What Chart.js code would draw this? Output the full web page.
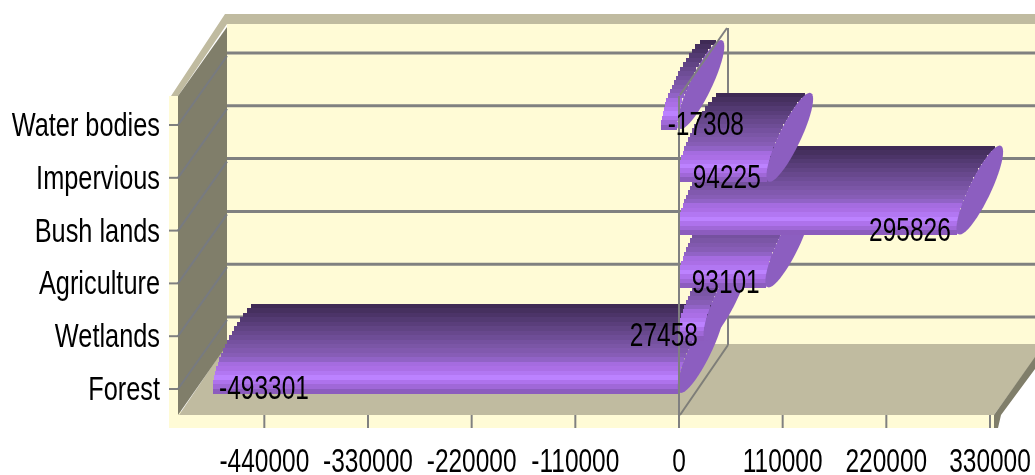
<!DOCTYPE html>
<html>
<head>
<meta charset="utf-8">
<style>html,body{margin:0;padding:0;background:#fff}canvas{display:block}</style>
<script src="https://cdn.jsdelivr.net/npm/chart.js@4"></script>
</head>
<body>
<canvas id="c" width="1035" height="475"></canvas>
<script>
const categories = ['Water bodies','Impervious','Bush lands','Agriculture','Wetlands','Forest'];
const values = [-17308, 94225, 295826, 93101, 27458, -493301];
const xTicks = [-440000,-330000,-220000,-110000,0,110000,220000,330000];

const CREAM='#FFFBD6', RIM='#C0BBA0', WALL='#807E6A', GRID='#808080', WALLGRID='#777A80', CAP='#8C5EC0';
const BANDS=['#3F2A55','#46305F','#4C3468','#533A72','#5A3E7B','#614484','#68488D','#6E4D96','#75519F','#7B56A6','#8159AE','#875DB6','#9163C6','#A56CE0','#AB6FE6','#B277F2','#BC82FF','#AE72EC','#A068D8','#8C5CBE'];
const FONT_CAT='34px "Liberation Sans"', XS=0.72;

function poly(ctx,pts,fill){ctx.beginPath();pts.forEach((p,i)=>i?ctx.lineTo(p[0],p[1]):ctx.moveTo(p[0],p[1]));ctx.closePath();ctx.fillStyle=fill;ctx.fill();}
function line(ctx,x1,y1,x2,y2,c,w){ctx.beginPath();ctx.moveTo(x1,y1);ctx.lineTo(x2,y2);ctx.strokeStyle=c;ctx.lineWidth=w||2;ctx.stroke();}
function text(ctx,s,x,y,align,sx){ctx.save();ctx.translate(x,y);ctx.scale(sx||XS,1);ctx.font=FONT_CAT;ctx.fillStyle='#000';ctx.textAlign=align;ctx.textBaseline='alphabetic';ctx.fillText(s,0,0);ctx.restore();}

const bar3d={
 id:'bar3d',
 beforeDatasetsDraw(chart){
  const ctx=chart.ctx,{x,y}=chart.scales;
  const zero=x.getPixelForValue(0);
  ctx.save();
  ctx.fillStyle=CREAM;
  ctx.fillRect(169,96,12,332);
  ctx.fillRect(169,415,825,13);
  ctx.fillRect(227,24,808,320);
  poly(ctx,[[179,415],[227,344],[1035,344],[1035,358],[994,415]],RIM);
  poly(ctx,[[994,428],[994,415],[1035,357],[1035,369],[1001,415],[998,428]],WALL);
  poly(ctx,[[171,96],[225,14],[1035,14],[1035,24],[227,24],[178,96]],RIM);
  poly(ctx,[[178,96],[227,27],[227,345],[178,415]],WALL);
  categories.forEach((c,i)=>{
    const yc=y.getPixelForValue(i);
    line(ctx,169,yc,178,yc,GRID,2);
    line(ctx,178,yc,227,yc-69,WALLGRID,2);
    line(ctx,227,yc-72,1035,yc-72,GRID,3);
  });
  xTicks.forEach(v=>{const p=x.getPixelForValue(v);line(ctx,p,415,p,428,GRID,2);});
  line(ctx,zero+49,28,zero+49,345,GRID,2);
  line(ctx,zero+1,415,zero+49,345,'#7E7E78',2);
  ctx.restore();
 },
 afterDatasetsDraw(chart){
  const ctx=chart.ctx,{x,y}=chart.scales,meta=chart.getDatasetMeta(0);
  const zero=x.getPixelForValue(0);
  const H=89,C=H/2,A=20,B=12,OFF=22,UMAX=A/Math.hypot(A,B);
  ctx.save();
  for(let i=meta.data.length-1;i>=0;i--){
    const el=meta.data[i],yc=el.y;
    const lo=Math.min(el.x,el.base),hi=Math.max(el.x,el.base);
    const bottom=yc+4,top=bottom-H,cy=(top+bottom)/2,n=BANDS.length,bh=H/n;
    BANDS.forEach((col,k)=>{
      const y1=top+k*bh,mid=y1+bh/2,u=Math.min((mid-cy)/C,UMAX);
      const dx=OFF-A*u-B*Math.sqrt(Math.max(0,1-u*u));
      ctx.fillStyle=col;
      ctx.fillRect(Math.round(lo+dx),Math.round(y1),Math.round(hi-lo),Math.ceil(bh));
    });
    ctx.beginPath();
    for(let t=0;t<=48;t++){
      const a=t/48*Math.PI*2,cu=Math.cos(a),px=hi+OFF-A*cu+B*Math.sin(a),py=cy+C*cu;
      t?ctx.lineTo(px,py):ctx.moveTo(px,py);
    }
    ctx.closePath();ctx.fillStyle=CAP;ctx.fill();
  }
  line(ctx,zero,96,zero,428,GRID,2);
  line(ctx,zero+1,95,zero+48,28,GRID,2);
  categories.forEach((c,i)=>text(ctx,c,160,y.getPixelForValue(i)+11,'right',0.745));
  xTicks.forEach(v=>text(ctx,String(v),x.getPixelForValue(v),472,'center'));
  meta.data.forEach((el,i)=>{
    const v=values[i];
    if(v<0) text(ctx,String(v),el.x+5,el.y+10,'left');
    else text(ctx,String(v),el.x-7,el.y+10,'right');
  });
  ctx.restore();
 }
};

new Chart(document.getElementById('c'),{
 type:'bar',
 data:{labels:categories,datasets:[{label:'Change',data:values,backgroundColor:'#B277F2',barThickness:6,borderWidth:0}]},
 options:{
  indexAxis:'y',responsive:false,animation:false,
  layout:{padding:{left:178,right:45,top:98.6,bottom:59.6}},
  plugins:{legend:{display:false},tooltip:{enabled:false},title:{display:false}},
  scales:{
   x:{min:-531600,max:330000,grid:{display:false,drawTicks:false},border:{display:false},ticks:{display:false},
      afterBuildTicks(s){s.ticks=xTicks.map(v=>({value:v}));}},
   y:{grid:{display:false,drawTicks:false},border:{display:false},ticks:{display:false}}
  }
 },
 plugins:[bar3d]
});
</script>
</body>
</html>
